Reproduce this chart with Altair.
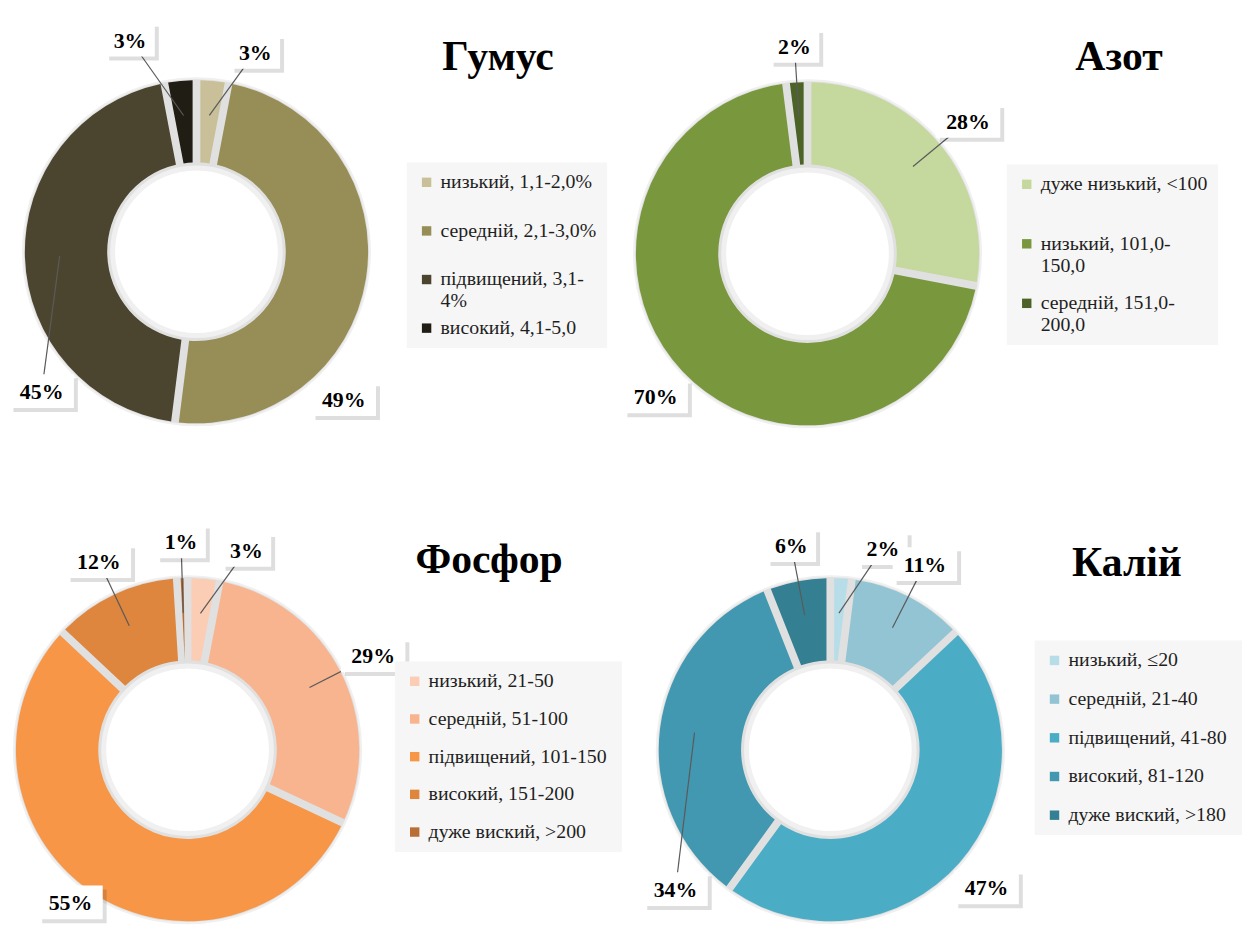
import math
import altair as alt
import pandas as pd

FONT = "Liberation Serif"

# ---------------- data ----------------
humus_cat = ["низький, 1,1-2,0%", "середній, 2,1-3,0%", "підвищений,  3,1-4%", "високий, 4,1-5,0"]
humus_val = [3, 49, 45, 3]
humus_col = ["#c9c09a", "#978d57", "#4b452f", "#201d14"]

azot_cat = ["дуже низький, <100", "низький, 101,0-150,0", "середній, 151,0-200,0"]
azot_val = [28, 70, 2]
azot_col = ["#c5d89d", "#79973d", "#4c6327"]

fosfor_cat = ["низький, 21-50", "середній, 51-100", "підвищений,  101-150", "високий, 151-200", "дуже виский, >200"]
fosfor_val = [3, 29, 55, 12, 1]
fosfor_col = ["#fbcdb4", "#f8b48e", "#f79646", "#de853e", "#b96e35"]

kalij_cat = ["низький, ≤20", "середній, 21-40", "підвищений,  41-80", "високий, 81-120", "дуже виский, >180"]
kalij_val = [2, 11, 47, 34, 6]
kalij_col = ["#b7dde8", "#93c4d4", "#4bacc6", "#4298b0", "#357f93"]

# ---------------- layout constants ----------------
PW = 617
RI, RO = 90, 173
RL = 210   # label radius
RS = 138   # leader start radius


def panel(title, cats, vals, cols, ph, cx, cy, legx, legy, rowpad, wrap, tx, ty):
    df = pd.DataFrame({"cat": cats, "val": vals, "idx": list(range(len(cats)))})
    xs = alt.Scale(domain=[-cx, PW - cx], nice=False, zero=False)
    ys = alt.Scale(domain=[cy - ph, cy], nice=False, zero=False)
    low = -(ph - cy) + 22  # keep label boxes inside the panel

    def X(f, **k):
        return alt.X(f, scale=xs, axis=None, **k)

    def Y(f, **k):
        return alt.Y(f, scale=ys, axis=None, **k)

    base = (
        alt.Chart(df)
        .transform_joinaggregate(total="sum(val)")
        .transform_window(cum="sum(val)", sort=[alt.SortField("idx", order="ascending")], frame=[None, 0])
        .transform_calculate(start="datum.cum - datum.val")
        .transform_calculate(deg="(datum.cum - datum.val / 2) / datum.total * 360")
        .transform_calculate(nudge="datum.deg > 350 && datum.val >= 3")
        .transform_calculate(
            ldeg="datum.deg < 10 ? datum.deg + 11 : datum.nudge ? datum.deg - 12 : "
                 "(datum.deg > 80 && datum.deg < 100) ? 135 : "
                 "(datum.deg > 260 && datum.deg < 280) ? 228 : datum.deg"
        )
        .transform_calculate(moved="abs(datum.ldeg - datum.deg) > 20")
        .transform_calculate(lr=f"datum.nudge ? {RL} + 14 : {RL}")
        .transform_calculate(lx="datum.lr * sin(datum.ldeg * PI / 180)")
        .transform_calculate(ly=f"max(datum.lr * cos(datum.ldeg * PI / 180), {low})")
        .transform_calculate(sx=f"{RS} * sin(datum.deg * PI / 180)")
        .transform_calculate(sy=f"{RS} * cos(datum.deg * PI / 180)")
        .transform_calculate(label="datum.val + '%'")
        .transform_calculate(hw="7.5 * length(datum.label) + 10")
        .transform_calculate(bx1="datum.lx - datum.hw", bx2="datum.lx + datum.hw")
        .transform_calculate(by1="datum.ly - 17", by2="datum.ly + 17")
        .transform_calculate(sx1="datum.bx1 + 4", sx2="datum.bx2 + 4")
        .transform_calculate(sy1="datum.by1 - 4", sy2="datum.by2 - 4")
    )

    one = alt.Chart(pd.DataFrame({"k": [0]}))
    halo_outer = one.mark_arc(radius=RO + 3, radius2=RI - 8, theta=0, theta2=2 * math.pi,
                              color="#f0f0f0").encode(
        x=alt.X(datum=0, type="quantitative", scale=xs, axis=None),
        y=alt.Y(datum=0, type="quantitative", scale=ys, axis=None))
    halo_inner = one.mark_arc(radius=RO + 1, radius2=RI - 3, theta=0, theta2=2 * math.pi,
                              color="#e0e0e0").encode(
        x=alt.X(datum=0, type="quantitative", scale=xs, axis=None),
        y=alt.Y(datum=0, type="quantitative", scale=ys, axis=None))

    label_expr = (
        f"length(datum.label) >= {wrap} ? "
        "[substring(datum.label, 0, lastindexof(datum.label, '-') + 1), "
        "substring(datum.label, lastindexof(datum.label, '-') + 1)] : datum.label"
    )

    arcs = base.mark_arc(radius=RO, radius2=RI, padAngle=0.04).encode(
        x=alt.X(datum=0, type="quantitative", scale=xs, axis=None),
        y=alt.Y(datum=0, type="quantitative", scale=ys, axis=None),
        theta=alt.Theta("start:Q", stack=None, scale=alt.Scale(domain=[0, 100])),
        theta2="cum:Q",
        color=alt.Color(
            "cat:N",
            scale=alt.Scale(domain=cats, range=cols),
            sort=cats,
            legend=alt.Legend(
                title=None, orient="none", legendX=legx, legendY=legy,
                fillColor="#f6f6f6", padding=10,
                labelFont=FONT, labelFontSize=20, labelColor="#1f1f1f",
                labelLimit=400, labelOffset=4,
                symbolType="square", symbolSize=90, symbolStrokeWidth=0,
                rowPadding=rowpad, gridAlign="all",
                labelExpr=label_expr,
            ),
        ),
        order=alt.Order("idx:Q"),
    )

    leaders = base.mark_rule(color="#5a5a5a", strokeWidth=1.2).encode(
        x=X("sx:Q"), y=Y("sy:Q"), x2="lx:Q", y2="ly:Q"
    ).transform_filter("datum.val < 30 || (datum.moved && datum.ldeg > 180)")

    shadow = base.mark_rect(color="#000000", opacity=0.13).encode(
        x=X("sx1:Q"), x2="sx2:Q", y=Y("sy1:Q"), y2="sy2:Q")
    boxes = base.mark_rect(color="white").encode(
        x=X("bx1:Q"), x2="bx2:Q", y=Y("by1:Q"), y2="by2:Q")
    texts = base.mark_text(font=FONT, fontSize=22, fontWeight="bold", color="black",
                           align="center", baseline="middle", dy=1).encode(
        x=X("lx:Q"), y=Y("ly:Q"), text="label:N")

    ttl = one.mark_text(font=FONT, fontSize=42, fontWeight="bold", color="black",
                        align="center", baseline="middle", text=title).encode(
        x=alt.value(tx), y=alt.value(ty))

    return alt.layer(halo_outer, halo_inner, arcs, leaders, shadow, boxes, texts, ttl).properties(
        width=PW, height=ph)


p1 = panel("Гумус", humus_cat, humus_val, humus_col, 460, 190, 242, 402, 152, 7, 19, 494, 46)
p2 = panel("Азот", azot_cat, azot_val, azot_col, 460, 189, 244, 390, 154, 18, 19, 503, 46)
p3 = panel("Фосфор", fosfor_cat, fosfor_val, fosfor_col, 460, 181, 284, 390, 195, 18, 99, 485, 93)
p4 = panel("Калій", kalij_cat, kalij_val, kalij_col, 460, 212, 284, 418, 174, 19, 99, 511, 96)

chart = (
    alt.concat(p1, p2, p3, p4, columns=2, spacing=0, bounds="flush")
    .resolve_scale(color="independent", x="independent", y="independent", theta="independent")
    .resolve_legend(color="independent")
    .properties(padding=0, background="white")
    .configure_view(strokeWidth=0, stroke="transparent")
)

chart.save("out.html", embed_options={"renderer": "svg", "actions": False})
